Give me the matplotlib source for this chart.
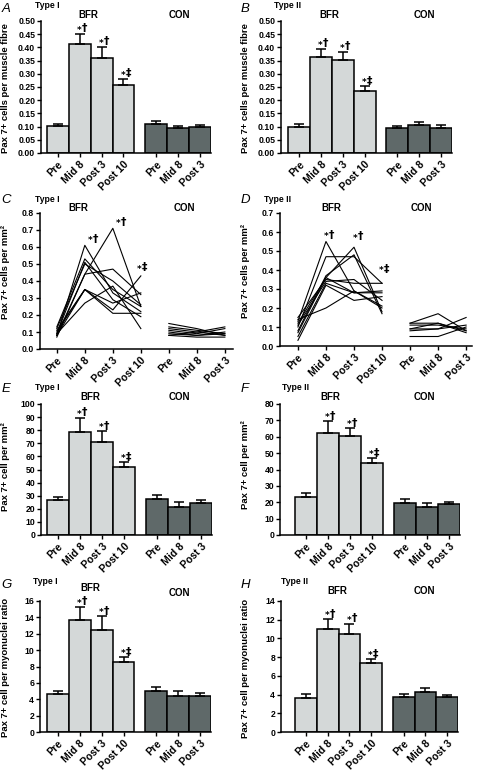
import matplotlib
matplotlib.use('Agg')
import matplotlib.pyplot as plt
import numpy as np

plt.rcParams['font.family'] = ['Liberation Sans', 'DejaVu Sans']

# ---------------- data ----------------
categories = ['Pre', 'Mid 8', 'Post 3', 'Post 10', 'Pre', 'Mid 8', 'Post 3']
sig_marks = ['', '\u2020', '\u2020', '\u2021', '', '', '']

# A: Type I, cells per muscle fibre
a_mean = [0.102, 0.412, 0.360, 0.256, 0.108, 0.095, 0.097]
a_sem = [0.008, 0.040, 0.042, 0.025, 0.013, 0.007, 0.008]
# B: Type II, cells per muscle fibre
b_mean = [0.097, 0.364, 0.352, 0.234, 0.093, 0.105, 0.096]
b_sem = [0.012, 0.031, 0.031, 0.019, 0.011, 0.014, 0.010]
# E: Type I, cells per mm2
e_mean = [26.5, 79.0, 71.2, 52.0, 27.5, 21.1, 24.2]
e_sem = [2.3, 10.6, 7.9, 3.6, 3.0, 3.8, 2.3]
# F: Type II, cells per mm2
f_mean = [23.0, 62.3, 60.3, 44.0, 19.5, 17.1, 18.9]
f_sem = [2.4, 7.3, 5.0, 2.8, 2.3, 2.4, 1.5]
# G: Type I, per myonuclei ratio
g_mean = [4.6, 13.7, 12.45, 8.5, 5.05, 4.45, 4.45]
g_sem = [0.45, 1.6, 1.7, 0.65, 0.4, 0.5, 0.35]
# H: Type II, per myonuclei ratio
h_mean = [3.67, 11.0, 10.5, 7.37, 3.74, 4.24, 3.70]
h_sem = [0.43, 1.07, 1.07, 0.43, 0.36, 0.5, 0.22]

# C: Type I individual subjects, cells per mm2 (BFR: Pre, Mid 8, Post 3, Post 10)
c_bfr_pre = [0.08, 0.13, 0.09, 0.12, 0.08, 0.07, 0.10, 0.08, 0.09, 0.11]
c_bfr_mid8 = [0.61, 0.53, 0.51, 0.50, 0.44, 0.44, 0.35, 0.35, 0.27, 0.35]
c_bfr_post3 = [0.33, 0.35, 0.29, 0.40, 0.71, 0.47, 0.23, 0.21, 0.37, 0.27]
c_bfr_post10 = [0.22, 0.25, 0.19, 0.26, 0.25, 0.32, 0.43, 0.21, 0.12, 0.33]
c_con_pre = [0.15, 0.13, 0.12, 0.11, 0.10, 0.09, 0.08, 0.08]
c_con_mid8 = [0.12, 0.11, 0.10, 0.09, 0.08, 0.08, 0.07, 0.10]
c_con_post3 = [0.08, 0.09, 0.13, 0.12, 0.10, 0.09, 0.07, 0.08]

# D: Type II individual subjects, cells per mm2
d_bfr_pre = [0.13, 0.10, 0.12, 0.08, 0.15, 0.05, 0.03, 0.14, 0.11, 0.07]
d_bfr_mid8 = [0.55, 0.47, 0.36, 0.37, 0.35, 0.33, 0.32, 0.20, 0.34, 0.36]
d_bfr_post3 = [0.29, 0.47, 0.52, 0.48, 0.33, 0.28, 0.24, 0.29, 0.35, 0.28]
d_bfr_post10 = [0.20, 0.33, 0.18, 0.17, 0.33, 0.29, 0.26, 0.21, 0.24, 0.28]
d_con_pre = [0.12, 0.12, 0.11, 0.09, 0.08, 0.05, 0.09]
d_con_mid8 = [0.17, 0.12, 0.11, 0.09, 0.09, 0.05, 0.12]
d_con_post3 = [0.08, 0.07, 0.09, 0.15, 0.11, 0.10, 0.08]

# ---------------- style ----------------
LIGHT = '#d4d8d8'
DARK = '#5f6969'
W, H = 480, 770
LW = 1.1
bar_pos = [0, 1, 2, 3, 4.5, 5.5, 6.5]
line_pos = [0, 1, 2, 3, 4, 5, 6]

fig = plt.figure(figsize=(W / 100, H / 100), dpi=100)


def px_axes(x0, x1, y0, y1):
    return fig.add_axes([x0 / W, 1 - y1 / H, (x1 - x0) / W, (y1 - y0) / H])


def ftext(x, y, s, **kw):
    kw.setdefault('ha', 'center')
    kw.setdefault('va', 'center')
    fig.text(x / W, 1 - y / H, s, **kw)


def mark(ax, x, y, dag, dx=0.0, dy=0.0):
    # star (small) + dagger (tall)
    ax.annotate('*', xy=(x, y), xytext=(dx + 0.8, dy - 1.0), textcoords='offset points',
                ha='right', va='bottom', fontsize=6.5, fontweight='bold',
                family=['DejaVu Sans'])
    ax.annotate(dag, xy=(x, y), xytext=(dx + 1.0, dy), textcoords='offset points',
                ha='left', va='bottom', fontsize=7.8, fontweight='bold',
                family=['DejaVu Sans'])


def style_axes(ax, xticks, ylim, ystep, fmt):
    for s in ('top', 'right'):
        ax.spines[s].set_visible(False)
    for s in ('left', 'bottom'):
        ax.spines[s].set_linewidth(LW)
    ax.set_ylim(*ylim)
    yt = np.arange(ylim[0], ylim[1] + ystep / 2, ystep)
    ax.set_yticks(yt)
    ax.set_yticklabels([fmt.format(v) for v in yt], fontsize=6.2, fontweight='bold')
    ax.set_xticks(xticks)
    ax.set_xticklabels(categories, rotation=45, ha='right', va='top',
                       rotation_mode='anchor', fontsize=7.5, fontweight='bold')
    ax.tick_params(axis='y', direction='out', length=3, width=1.0, pad=1.2)
    ax.tick_params(axis='x', direction='out', length=3, width=1.0, pad=1.5)


def bar_panel(ax, mean, sem, xlim, ylim, ystep, fmt):
    colors = [LIGHT] * 4 + [DARK] * 3
    ax.bar(bar_pos, mean, width=1.0, color=colors, edgecolor='black',
           linewidth=LW, zorder=2)
    ax.errorbar(bar_pos, mean, yerr=[np.zeros(len(sem)), sem], fmt='none',
                ecolor='black', elinewidth=LW, capsize=3.6, capthick=LW, zorder=3)
    for p, m, s, mk in zip(bar_pos, mean, sem, sig_marks):
        if mk:
            mark(ax, p, m + s, mk, dx=0.5, dy=0.3)
    ax.set_xlim(*xlim)
    style_axes(ax, bar_pos, ylim, ystep, fmt)


def line_panel(ax, bfr, con, xlim, ylim, marks_xy):
    for row in zip(*bfr):
        ax.plot(line_pos[:4], row, color='black', lw=0.8)
    for row in zip(*con):
        ax.plot(line_pos[4:], row, color='black', lw=0.8)
    for (x, y), mk in zip(marks_xy, sig_marks[1:4]):
        mark(ax, x, y, mk)
    ax.set_xlim(*xlim)
    style_axes(ax, line_pos, ylim, 0.1, '{:.1f}')


def headers(xl, yl, letter, typ, xt, yt, xb, xc, yb, ylab, xlab_x, ylab_y, yc=None):
    ftext(xl, yl, letter, fontsize=9.5, style='italic')
    ftext(xt, yt, typ, fontsize=6.2, fontweight='bold')
    ftext(xb, yb, 'BFR', fontsize=7, fontweight='bold')
    ftext(xc, yb if yc is None else yc, 'CON', fontsize=7, fontweight='bold')
    ftext(xlab_x, ylab_y, ylab, fontsize=6.8, fontweight='bold', rotation=90)


# A
axA = px_axes(41, 211, 21, 153)
bar_panel(axA, a_mean, a_sem, (-0.77, 7.0), (0, 0.5), 0.05, '{:.2f}')
headers(6, 9, 'A', 'Type I', 47, 5, 88, 179, 15, 'Pax 7+ cells per muscle fibre', 6, 88)
# B
axB = px_axes(281, 452, 21, 153)
bar_panel(axB, b_mean, b_sem, (-0.83, 7.0), (0, 0.5), 0.05, '{:.2f}')
headers(245, 9, 'B', 'Type II', 288, 5, 329, 424, 15, 'Pax 7+ cells per muscle fibre', 246, 88)
# C
axC = px_axes(40, 233, 213, 349)
line_panel(axC, (c_bfr_pre, c_bfr_mid8, c_bfr_post3, c_bfr_post10),
           (c_con_pre, c_con_mid8, c_con_post3), (-0.6, 6.29), (0, 0.8),
           [(1.25, 0.62), (2.25, 0.72), (3.0, 0.45)])
headers(6, 200, 'C', 'Type I', 47, 200, 78, 184, 208, 'Pax 7+ cells per mm\u00b2', 6, 272)
# D
axD = px_axes(280, 472, 213, 346)
line_panel(axD, (d_bfr_pre, d_bfr_mid8, d_bfr_post3, d_bfr_post10),
           (d_con_pre, d_con_mid8, d_con_post3), (-0.64, 6.21), (0, 0.7),
           [(1.05, 0.56), (2.1, 0.55), (3.0, 0.38)])
headers(245, 200, 'D', 'Type II', 278, 200, 331, 421, 208, 'Pax 7+ cells per mm\u00b2', 246, 271)
# E
axE = px_axes(41, 212, 404, 535)
bar_panel(axE, e_mean, e_sem, (-0.77, 7.0), (0, 100), 10, '{:.0f}')
headers(6, 389, 'E', 'Type I', 47, 387, 90, 179, 397, 'Pax 7+ cell per mm\u00b2', 6, 467)
# F
axF = px_axes(280, 460, 404, 535)
bar_panel(axF, f_mean, f_sem, (-1.18, 7.0), (0, 80), 10, '{:.0f}')
headers(245, 389, 'F', 'Type II', 296, 387, 330, 424, 397, 'Pax 7+ cell per mm\u00b2', 246, 465)
# G
axG = px_axes(40, 211, 601, 732)
bar_panel(axG, g_mean, g_sem, (-0.82, 7.0), (0, 16), 2, '{:.0f}')
headers(6, 585, 'G', 'Type I', 45, 582, 90, 179, 588, 'Pax 7+ cell per myonuclei ratio', 6, 667, yc=593)
# H
axH = px_axes(281, 458, 601, 732)
bar_panel(axH, h_mean, h_sem, (-1.15, 7.0), (0, 14), 2, '{:.0f}')
headers(245, 585, 'H', 'Type II', 295, 582, 337, 424, 591, 'Pax 7+ cell per myonuclei ratio', 246, 668)

fig.savefig('out.png', dpi=100, facecolor='white')
